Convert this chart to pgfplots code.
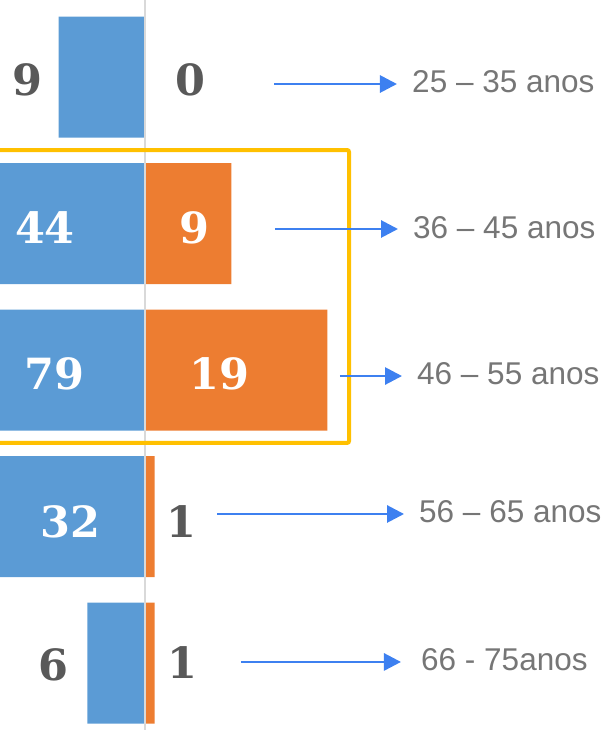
\documentclass[border=0pt]{standalone}
\usepackage{pgfplots}
\pgfplotsset{compat=1.18}
\usetikzlibrary{arrows.meta}
\usepackage{fontspec}
\setmainfont{Liberation Sans}
\newfontfamily\valfont{DejaVu Serif}
\definecolor{cblue}{HTML}{5B9BD5}
\definecolor{corange}{HTML}{ED7D31}
\definecolor{cline}{HTML}{D9D9D9}
\definecolor{cyellow}{HTML}{FFC000}
\definecolor{carrow}{HTML}{3D80F0}
\definecolor{ctext}{HTML}{767676}
\definecolor{cdark}{HTML}{595959}
\tikzset{
  valw/.style={font=\valfont\bfseries\fontsize{43}{43}\selectfont, text=white, anchor=center},
  vald/.style={font=\valfont\bfseries\fontsize{43}{43}\selectfont, text=cdark, anchor=center},
  agel/.style={font=\fontsize{31.5}{31.5}\selectfont, text=ctext, anchor=west, inner sep=0pt},
  arr/.style={draw=carrow, line width=2.8pt, -{Triangle[length=17pt,width=17pt]}},
}
\begin{document}
\begin{tikzpicture}
\begin{axis}[
  scale only axis, width=607pt, height=730pt, hide axis,
  xmin=-15.104, xmax=48.125, ymin=-0.457, ymax=4.526,
  xbar, bar width=0.826, bar shift=0pt, clip=true,
]
\addplot[fill=cblue, draw=none] coordinates {(-9,4) (-44,3) (-79,2) (-32,1) (-6,0)};
\addplot[fill=corange, draw=none] coordinates {(0,4) (9,3) (19,2) (1,1) (1,0)};
\draw[cline, line width=2.5pt] (axis cs:0,-0.457) -- (axis cs:0,4.526);
\draw[cyellow, line width=4pt, rounded corners=2pt] (rel axis cs:-0.02,0.7945) rectangle (rel axis cs:0.5750,0.3932);
% value labels
\node[vald] at (rel axis cs:0.0445,0.8904) {9};
\node[vald] at (rel axis cs:0.3130,0.8904) {0};
\node[valw] at (rel axis cs:0.0741,0.6877) {44};
\node[valw] at (rel axis cs:0.3196,0.6877) {9};
\node[valw] at (rel axis cs:0.0890,0.4877) {79};
\node[valw] at (rel axis cs:0.3608,0.4877) {19};
\node[valw] at (rel axis cs:0.1153,0.2849) {32};
\node[vald] at (rel axis cs:0.2982,0.2849) {1};
\node[vald] at (rel axis cs:0.0873,0.0890) {6};
\node[vald] at (rel axis cs:0.2998,0.0918) {1};
% arrows
\draw[arr] (rel axis cs:0.4514,0.8849) -- (rel axis cs:0.6540,0.8849);
\draw[arr] (rel axis cs:0.4530,0.6863) -- (rel axis cs:0.6557,0.6863);
\draw[arr] (rel axis cs:0.5601,0.4849) -- (rel axis cs:0.6623,0.4849);
\draw[arr] (rel axis cs:0.3575,0.2959) -- (rel axis cs:0.6656,0.2959);
\draw[arr] (rel axis cs:0.3970,0.0932) -- (rel axis cs:0.6606,0.0932);
% age labels
\node[agel] at (rel axis cs:0.6788,0.8877) {25 -- 35 anos};
\node[agel] at (rel axis cs:0.6804,0.6877) {36 -- 45 anos};
\node[agel] at (rel axis cs:0.6870,0.4877) {46 -- 55 anos};
\node[agel] at (rel axis cs:0.6903,0.2986) {56 -- 65 anos};
\node[agel] at (rel axis cs:0.6936,0.0959) {66 - 75anos};
\end{axis}
\pgfresetboundingbox
\useasboundingbox (current axis.south west) rectangle (current axis.north east);
\end{tikzpicture}
\end{document}
